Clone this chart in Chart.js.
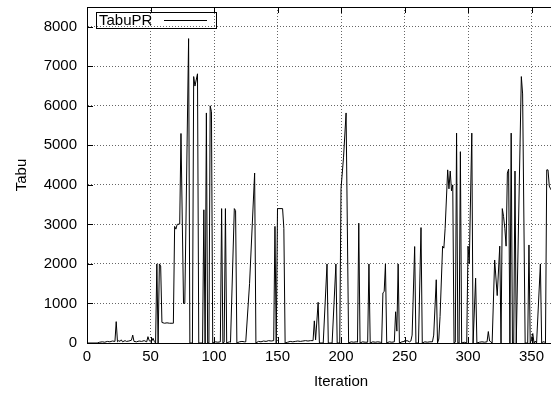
<!DOCTYPE html>
<html>
<head>
<meta charset="utf-8">
<script src="https://cdn.jsdelivr.net/npm/chart.js@4/dist/chart.umd.min.js"></script>
<style>
  html, body { margin: 0; padding: 0; overflow: hidden; background: #fff; }
  canvas { display: block; }
</style>
</head>
<body>
<canvas id="tabuChart" width="620" height="396"></canvas>
<script>
const seriesLabel = 'TabuPR';
const iterations = [
  0, 8, 10, 12, 14, 16, 18, 20, 22, 23, 24, 25, 26, 27, 28, 30, 31, 33, 35, 36, 37, 39, 41, 43, 45, 47, 48, 49, 50, 51, 52, 53,
  54, 55, 56, 57, 58, 59, 61, 63, 65, 67, 68, 69, 70, 71, 73, 74, 76, 77, 80, 81, 83, 84, 85, 87, 88,
  91, 92, 93, 94, 95, 96, 97, 98, 99, 101, 103, 105, 106, 107, 108, 109, 110, 112, 113, 116, 117, 118,
  120, 122, 124, 125, 128, 132, 133, 135, 137, 139, 141, 143, 145, 147, 148, 149, 150, 154, 155, 156,
  158, 160, 162, 164, 166, 168, 170, 172, 174, 176, 178, 179, 180, 182, 183, 186, 189, 190, 193, 196, 197,
  199, 200, 202, 204, 206, 208, 210, 212, 213, 214, 215, 217, 219, 221, 222, 223, 225, 227, 229, 231,
  232, 233, 234, 235, 236, 238, 240, 242, 243, 244, 245, 246, 248, 250, 252, 254, 255, 256, 258, 259,
  261, 263, 264, 266, 268, 270, 272, 273, 275, 276, 277, 278, 280, 281, 282, 284, 285, 286, 287, 288, 289,
  290, 291, 292, 293, 294, 295, 297, 299, 300, 301, 303, 304, 306, 307, 309, 311, 313, 315, 316, 317, 318, 319,
  321, 323, 325, 326, 327, 328, 329, 330, 331, 332, 333, 334, 335, 336, 337, 338, 342, 343, 345, 347, 348, 349,
  350, 351, 352, 353, 354, 357, 358, 359, 360, 361, 362, 363, 364, 365, 366, 367
];
const tabuValues = [
  0, 0, 20, 30, 20, 40, 30, 50, 40, 540, 30, 60, 40, 80, 30, 60, 40, 50, 70, 200, 40, 30, 50, 40, 60, 30, 160, 60, 30, 50, 120, 40,
  0, 2000, 0, 2000, 1950, 520, 500, 510, 500, 500, 500, 2950, 2880, 3000, 3010, 5300, 1000, 1000, 7700, 0, 0, 6740, 6500, 6810, 0,
  0, 3370, 0, 5820, 0, 0, 6000, 5850, 0, 30, 20, 30, 3400, 0, 20, 3400, 0, 30, 20, 3400, 3350, 0,
  30, 40, 30, 30, 1500, 4300, 0, 40, 30, 50, 40, 60, 50, 60, 2950, 0, 3400, 3400, 2900, 0,
  20, 40, 30, 40, 50, 40, 50, 60, 50, 60, 60, 560, 80, 1030, 0, 0, 2000, 0, 0, 2000, 0,
  0, 3900, 4700, 5820, 0, 30, 20, 30, 20, 3030, 0, 30, 20, 20, 2000, 0, 30, 20, 30, 20,
  0, 1270, 1300, 2000, 0, 30, 20, 30, 790, 300, 2000, 0, 30, 40, 60, 30, 50, 200, 2440, 0,
  0, 2920, 0, 30, 20, 30, 30, 200, 1600, 0, 100, 670, 2450, 2400, 2900, 4380, 3900, 4350, 3850, 4000, 0,
  20, 5310, 0, 0, 4840, 0, 20, 0, 2450, 2000, 5310, 0, 1640, 0, 20, 30, 20, 30, 290, 50, 30, 0,
  2100, 1200, 2450, 0, 3400, 3200, 2900, 2450, 4300, 4400, 0, 5310, 0, 0, 4350, 0, 6740, 6300, 0, 0, 2480, 0,
  100, 240, 0, 50, 0, 2000, 0, 30, 30, 0, 4380, 4380, 3970, 3900, 3850, 3800
];
const xTickValues = [0, 50, 100, 150, 200, 250, 300, 350, 400];
const yTickValues = [0, 1000, 2000, 3000, 4000, 5000, 6000, 7000, 8000];

const font = { family: 'Liberation Sans, Arial, sans-serif', size: 15 };

// gnuplot-like frame, inward ticks and key box
const framePlugin = {
  id: 'frame',
  afterDraw(chart) {
    const { ctx, chartArea: a, scales } = chart;
    ctx.save();
    ctx.strokeStyle = '#000';
    ctx.lineWidth = 1;
    ctx.strokeRect(a.left + 0.5, a.top + 0.5, a.right - a.left, a.bottom - a.top);
    ctx.beginPath();
    scales.y.ticks.forEach(t => {
      const y = Math.round(scales.y.getPixelForValue(t.value)) + 0.5;
      ctx.moveTo(a.left, y); ctx.lineTo(a.left + 6, y);
    });
    scales.x.ticks.forEach(t => {
      const x = Math.round(scales.x.getPixelForValue(t.value)) + 0.5;
      ctx.moveTo(x, a.bottom); ctx.lineTo(x, a.bottom - 6);
      ctx.moveTo(x, a.top); ctx.lineTo(x, a.top + 6);
    });
    ctx.stroke();

    // key
    ctx.strokeRect(96.5, 12.5, 120, 16);
    ctx.fillStyle = '#000';
    ctx.font = font.size + 'px ' + font.family;
    ctx.textBaseline = 'middle';
    ctx.textAlign = 'left';
    ctx.fillText(chart.data.datasets[0].label, 99, 21);
    ctx.beginPath();
    ctx.moveTo(164, 20.5); ctx.lineTo(207, 20.5);
    ctx.stroke();
    ctx.restore();
  }
};

const ctx = document.getElementById('tabuChart').getContext('2d');
const tabuChart = new Chart(ctx, {
  type: 'line',
  data: {
    datasets: [{
      label: seriesLabel,
      data: iterations.map((it, i) => ({ x: it, y: tabuValues[i] })),
      borderColor: '#000',
      borderWidth: 1,
      pointRadius: 0,
      tension: 0,
      fill: false
    }]
  },
  options: {
    responsive: false,
    animation: false,
    layout: { padding: { left: 0, top: 7, right: 25, bottom: 0 } },
    plugins: { legend: { display: false }, tooltip: { enabled: false } },
    scales: {
      x: {
        type: 'linear',
        min: 0,
        max: 400,
        afterBuildTicks: s => { s.ticks = xTickValues.map(v => ({ value: v })); },
        afterFit: s => { s.height = 53; s.paddingLeft = 0; s.paddingRight = 0; },
        ticks: { color: '#000', font, padding: 5, maxRotation: 0, callback: v => String(v) },
        grid: { color: '#666', drawTicks: false },
        border: { color: '#000', dash: [1, 2] },
        title: { display: true, text: 'Iteration', color: '#000', font, padding: { top: 0, bottom: 5 } }
      },
      y: {
        min: 0,
        max: 8500,
        afterBuildTicks: s => { s.ticks = yTickValues.map(v => ({ value: v })); },
        afterFit: s => { s.width = 87; s.paddingTop = 0; s.paddingBottom = 0; },
        ticks: { color: '#000', font, padding: 10, callback: v => String(v) },
        grid: { color: '#666', drawTicks: false },
        border: { color: '#000', dash: [1, 2] },
        title: { display: true, text: 'Tabu', color: '#000', font, padding: { top: 13, bottom: 0 } }
      }
    }
  },
  plugins: [framePlugin]
});
</script>
</body>
</html>
